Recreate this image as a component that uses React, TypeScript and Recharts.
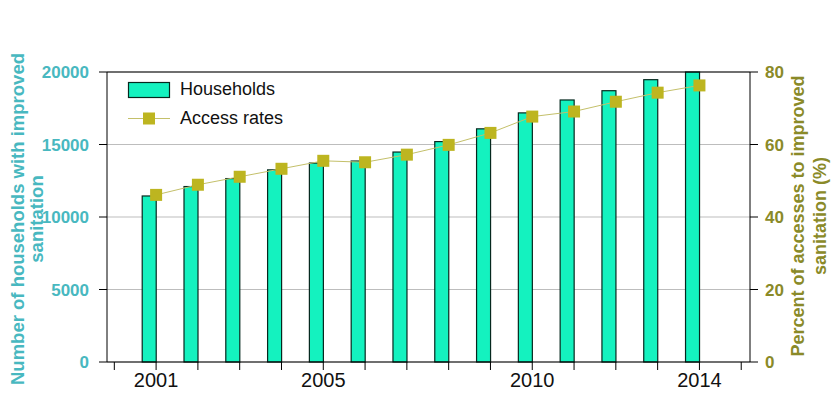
import React from 'react';
import { ComposedChart, Bar, Line, XAxis, YAxis, CartesianGrid, ReferenceLine, Legend } from 'recharts';

const years = [2001, 2002, 2003, 2004, 2005, 2006, 2007, 2008, 2009, 2010, 2011, 2012, 2013, 2014];
const households = [11450, 12100, 12650, 13250, 13720, 13860, 14480, 15200, 16080, 17180, 18070, 18710, 19470, 20000];
const accessRates = [46.1, 48.9, 51.1, 53.3, 55.5, 55.1, 57.2, 59.9, 63.2, 67.7, 69.1, 71.8, 74.3, 76.3];
const xTickYears = [2000, 2001, 2002, 2003, 2004, 2005, 2006, 2007, 2008, 2009, 2010, 2011, 2012, 2013, 2014, 2015];
const xTickLabels = [2001, 2005, 2010, 2014];
const leftTicks = [0, 5000, 10000, 15000, 20000];
const rightTicks = [0, 20, 40, 60, 80];

const data = years.map((year, i) => ({ year, households: households[i], access: accessRates[i] }));

const FONT = '"Liberation Sans", Arial, sans-serif';
const BAR_FILL = '#14F2BF';
const BAR_STROKE = '#06281E';
const MARK = '#BDB520';
const LINE = '#C4C06A';
const LEFT_COLOR = '#48B8C0';
const RIGHT_COLOR = '#8A8A28';

const ShiftedBar = (props: any) => {
  const { x, y, width, height } = props;
  if (width == null || height == null) return null;
  return (
    <rect x={x - width / 2} y={y} width={width} height={height} fill={BAR_FILL} stroke={BAR_STROKE} strokeWidth={1.2} />
  );
};

const SquareDot = (p: any) => (
  <rect key={`d${p.index}`} x={p.cx - 6} y={p.cy - 6} width={12} height={12} fill={MARK} />
);

const LeftLabel = (props: any) => {
  const vb = props.viewBox || { x: 0, y: 72, width: 107, height: 290 };
  const cy = vb.y + vb.height / 2 + 2;
  return (
    <g>
      <text x={24} y={cy} textAnchor="middle" fill={LEFT_COLOR} fontFamily={FONT} fontWeight={700} fontSize={18.5}
        transform={`rotate(-90, 24, ${cy})`}>Number of households with improved</text>
      <text x={43} y={cy} textAnchor="middle" fill={LEFT_COLOR} fontFamily={FONT} fontWeight={700} fontSize={18.5}
        transform={`rotate(-90, 43, ${cy})`}>sanitation</text>
    </g>
  );
};

const RightLabel = (props: any) => {
  const vb = props.viewBox || { x: 750, y: 72, width: 85, height: 290 };
  const cy = vb.y + vb.height / 2 - 1;
  return (
    <g>
      <text x={804} y={cy} textAnchor="middle" fill={RIGHT_COLOR} fontFamily={FONT} fontWeight={700} fontSize={18}
        transform={`rotate(-90, 804, ${cy})`}>Percent of accesses to improved</text>
      <text x={826} y={cy} textAnchor="middle" fill={RIGHT_COLOR} fontFamily={FONT} fontWeight={700} fontSize={18}
        transform={`rotate(-90, 826, ${cy})`}>sanitation (%)</text>
    </g>
  );
};

const LegendContent = () => (
  <div style={{ fontFamily: FONT, fontSize: 18, color: '#111' }}>
    <div style={{ display: 'flex', alignItems: 'center', height: 29 }}>
      <svg width={44} height={29} style={{ display: 'block' }}>
        <rect x={1.5} y={7.5} width={41} height={15} fill={BAR_FILL} stroke={BAR_STROKE} strokeWidth={1.2} />
      </svg>
      <span style={{ marginLeft: 9 }}>Households</span>
    </div>
    <div style={{ display: 'flex', alignItems: 'center', height: 29 }}>
      <svg width={44} height={29} style={{ display: 'block' }}>
        <line x1={1} x2={43} y1={14.5} y2={14.5} stroke={LINE} strokeWidth={1} />
        <rect x={16} y={8.5} width={12} height={12} fill={MARK} />
      </svg>
      <span style={{ marginLeft: 9 }}>Access rates</span>
    </div>
  </div>
);

export default function App() {
  return (
    <div style={{ position: 'absolute', left: 0, top: 0, width: 835, height: 401, background: '#fff' }}>
      <ComposedChart
        width={835}
        height={401}
        data={data}
        margin={{ top: 72, right: 0, bottom: 0, left: 0 }}
        style={{ fontFamily: FONT }}
      >
        <CartesianGrid yAxisId="left" vertical={false} stroke="#BDBDBD" strokeWidth={1} />
        <XAxis
          dataKey="year"
          type="number"
          domain={[1999.825, 2015.21]}
          allowDataOverflow
          ticks={xTickYears}
          interval={0}
          tickFormatter={(v: number) => (xTickLabels.includes(v) ? String(v) : '')}
          height={39}
          tickSize={8}
          tickMargin={3}
          axisLine={{ stroke: '#000' }}
          tickLine={{ stroke: '#000' }}
          tick={{ fill: '#111', fontSize: 20, fontFamily: FONT }}
        />
        <YAxis
          yAxisId="left"
          orientation="left"
          width={107}
          domain={[0, 20000]}
          ticks={leftTicks}
          interval={0}
          tickSize={8}
          tickMargin={10}
          axisLine={{ stroke: '#000' }}
          tickLine={{ stroke: '#000' }}
          tick={{ fill: LEFT_COLOR, fontSize: 17, fontWeight: 'bold', fontFamily: FONT }}
          label={<LeftLabel />}
        />
        <YAxis
          yAxisId="right"
          orientation="right"
          width={85}
          domain={[0, 80]}
          ticks={rightTicks}
          interval={0}
          tickSize={8}
          tickMargin={7}
          axisLine={{ stroke: '#000' }}
          tickLine={{ stroke: '#000' }}
          tick={{ fill: RIGHT_COLOR, fontSize: 17, fontWeight: 'bold', fontFamily: FONT }}
          label={<RightLabel />}
        />
        <ReferenceLine yAxisId="left" y={20000} stroke="#000" strokeWidth={1} />
        <Bar
          yAxisId="left"
          dataKey="households"
          barSize={14}
          shape={<ShiftedBar />}
          isAnimationActive={false}
        />
        <Line
          yAxisId="right"
          dataKey="access"
          stroke={LINE}
          strokeWidth={1}
          dot={SquareDot}
          activeDot={false}
          isAnimationActive={false}
        />
        <Legend
          layout="vertical"
          align="center"
          verticalAlign="middle"
          content={<LegendContent />}
          wrapperStyle={{ left: 127, top: 75, width: 200, height: 58 }}
        />
      </ComposedChart>
    </div>
  );
}
